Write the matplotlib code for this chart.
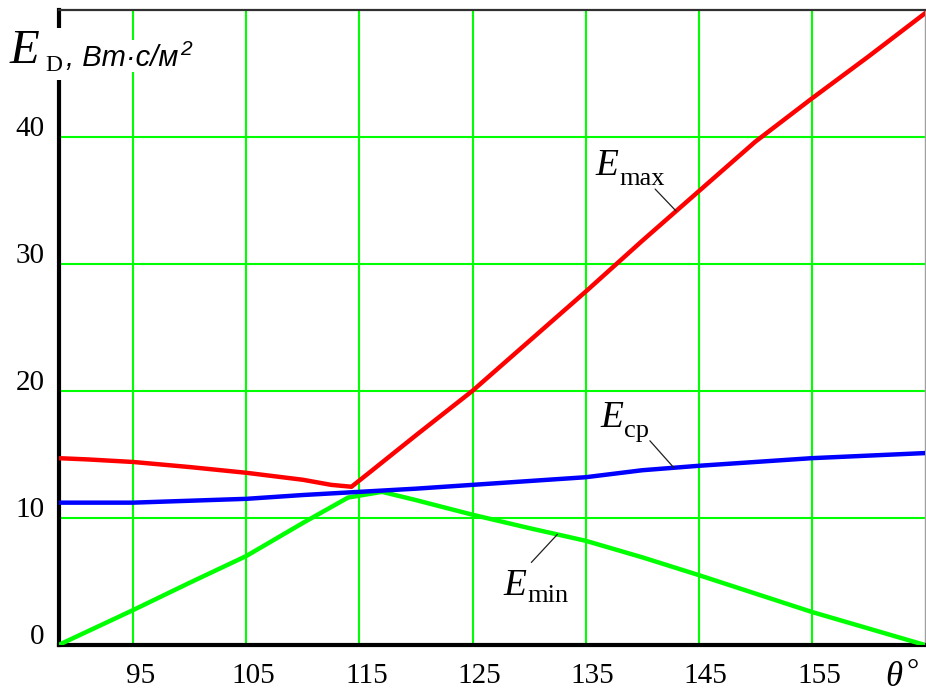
import numpy as np
import matplotlib
matplotlib.use("Agg")
import matplotlib.pyplot as plt
from matplotlib.patches import Rectangle
from matplotlib.transforms import blended_transform_factory, offset_copy

# ---------------- data ----------------
x_max = [88.4, 91, 95, 100, 105, 110, 112.5, 114.3, 116, 120, 125, 130, 135, 140, 145, 150, 155, 160, 165]
y_max = [14.7, 14.6, 14.4, 14.0, 13.55, 13.0, 12.6, 12.45, 13.65, 16.5, 20.0, 23.9, 27.8, 31.8, 35.7, 39.6, 43.0, 46.3, 49.7]

x_cp = [88.4, 95, 100, 105, 110, 115, 120, 125, 130, 135, 140, 145, 150, 155, 160, 165]
y_cp = [11.2, 11.2, 11.35, 11.5, 11.8, 12.05, 12.3, 12.6, 12.9, 13.2, 13.75, 14.1, 14.4, 14.7, 14.9, 15.1]

x_min = [88.4, 95, 100, 105, 110, 114, 117, 120, 125, 130, 135, 140, 145, 150, 155, 160, 165]
y_min = [0, 2.75, 4.9, 7.0, 9.6, 11.6, 12.05, 11.4, 10.25, 9.2, 8.2, 6.9, 5.5, 4.05, 2.6, 1.3, 0]

x_ticks = [95, 105, 115, 125, 135, 145, 155]
y_ticks = [0, 10, 20, 30, 40]
x_lim = (88.4, 165)
y_lim = (0, 50)

# ---------------- figure ----------------
W, H = 926, 693
fig = plt.figure(figsize=(W / 100, H / 100), dpi=100)
fig.patch.set_facecolor("white")

def fx(px):
    return px / W

def fy(py):
    return 1 - py / H

L, R, T, B = 58.5, 925, 9.5, 645
ax = fig.add_axes([fx(L), fy(B), (R - L) / W, (B - T) / H])
ax.set_xlim(*x_lim)
ax.set_ylim(*y_lim)

ax.set_xticks(x_ticks)
ax.set_yticks(y_ticks[1:])
ax.tick_params(length=0, labelbottom=False, labelleft=False)
ax.grid(True, color="#00ff00", lw=1.5)
ax.set_axisbelow(True)

for s in ("left", "bottom"):
    ax.spines[s].set_color("black")
    ax.spines[s].set_linewidth(3.0)
ax.spines["top"].set_color("#303030")
ax.spines["top"].set_linewidth(1.6)
ax.spines["right"].set_color("#a0a0a0")
ax.spines["right"].set_linewidth(1.0)

ax.plot(x_min, y_min, color="#00ff00", lw=3.2, zorder=3, solid_joinstyle="round")
ax.plot(x_cp, y_cp, color="#0000ff", lw=3.2, zorder=4, solid_joinstyle="round")
ax.plot(x_max, y_max, color="#ff0000", lw=3.2, zorder=5, solid_joinstyle="round")

serif = "Liberation Serif"
sans = "Liberation Sans"

# tick labels
bx = blended_transform_factory(ax.transData, ax.transAxes)
bx_off = offset_copy(bx, fig=fig, x=7, y=-18, units="dots")
for t in x_ticks:
    ax.text(t, 0, str(t), transform=bx_off, ha="center", va="top",
            family=serif, fontsize=21, clip_on=False)
by = blended_transform_factory(ax.transAxes, ax.transData)
by_off = offset_copy(by, fig=fig, x=-14, y=8, units="dots")
for t in y_ticks:
    ax.text(0, t, str(t), transform=by_off, ha="right", va="center",
            family=serif, fontsize=21, clip_on=False)

# y axis label with white background breaking the spine
fig.add_artist(Rectangle((fx(50), fy(80)), (66 - 50) / W, (80 - 28) / H,
                         transform=fig.transFigure, facecolor="white",
                         edgecolor="none", zorder=5))
fig.add_artist(Rectangle((fx(60), fy(72)), (215 - 60) / W, (72 - 40) / H,
                         transform=fig.transFigure, facecolor="white",
                         edgecolor="none", zorder=5))
fig.text(fx(10), fy(63), "E", family=serif, style="italic", fontsize=35,
         ha="left", va="baseline", zorder=6)
fig.text(fx(45), fy(71), "D", family=serif, fontsize=17,
         ha="left", va="baseline", zorder=6)
unit = fig.text(fx(66), fy(66), ", Вт·с/м", family=sans, style="italic",
                fontsize=21, ha="left", va="baseline", zorder=6)
fig.canvas.draw()
bb = unit.get_window_extent()
fig.text((bb.x1 + 2) / W, fy(55), "2", family=sans, style="italic", fontsize=15,
         ha="left", va="baseline", zorder=6)

# theta label
fig.text(fx(885), fy(686), "θ", family=serif, style="italic", fontsize=25,
         ha="left", va="baseline")
fig.text(fx(906), fy(680), "°", family=serif, fontsize=22,
         ha="left", va="baseline")

# curve labels
def curve_label(px, py, sub, sub_dx, sub_dy):
    fig.text(fx(px), fy(py), "E", family=serif, style="italic", fontsize=27,
             ha="left", va="baseline")
    fig.text(fx(px + sub_dx), fy(py + sub_dy), sub, family=serif, fontsize=19,
             ha="left", va="baseline")

curve_label(595, 175, "max", 24, 10)
curve_label(600, 427, "cp", 24, 10)
curve_label(503, 595, "min", 24, 7)

# leader lines anchored on the curves
def leader(xa, xs, ys, dx, dy):
    ya = float(np.interp(xa, xs, ys))
    ax.annotate("", xy=(xa, ya), xytext=(dx, dy), textcoords="offset pixels",
                arrowprops=dict(arrowstyle="-", lw=0.9, color="#202020",
                                shrinkA=0, shrinkB=0), zorder=6)

leader(143.0, x_max, y_max, -21, 22)
leader(142.8, x_cp, y_cp, -24, 27)
leader(132.5, x_min, y_min, -26, -28)

fig.savefig("out.png", dpi=100, facecolor="white")
